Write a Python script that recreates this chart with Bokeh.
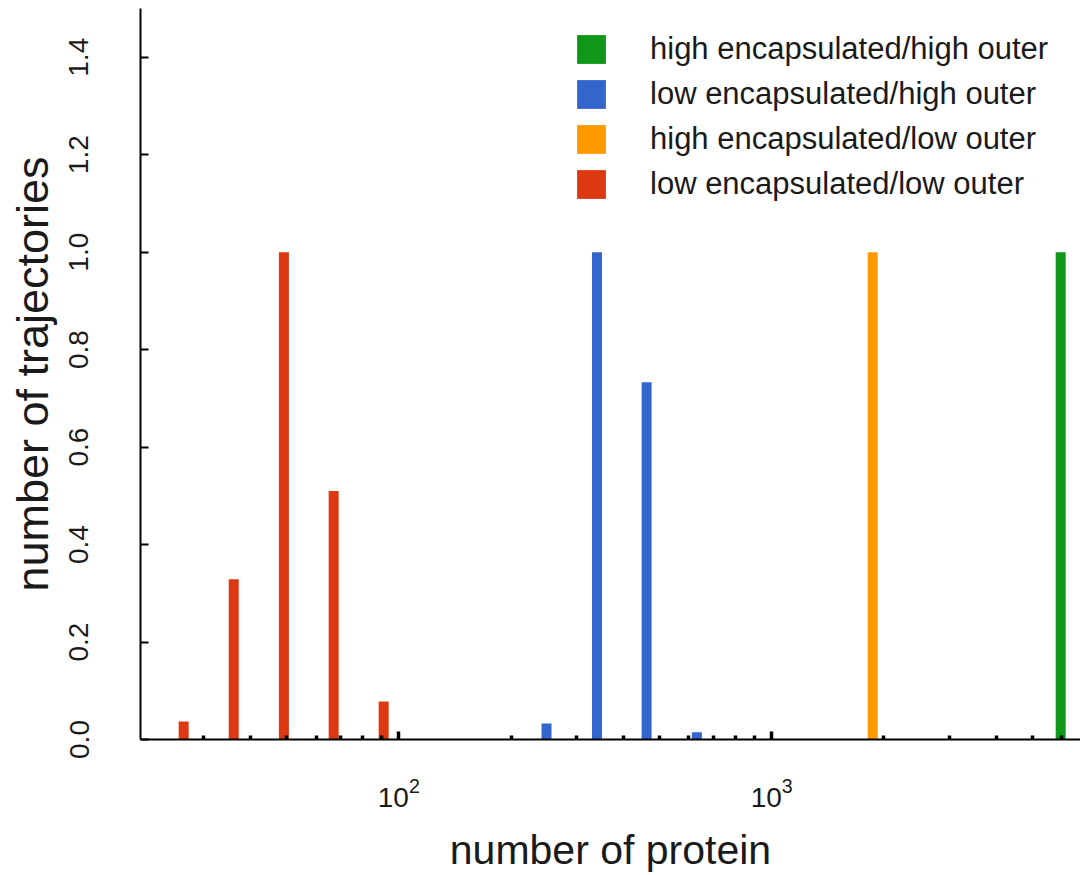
from bokeh.plotting import figure
from bokeh.models import (Range1d, FixedTicker, PrintfTickFormatter, Legend, LegendItem)
from bokeh.embed import file_html
from bokeh.resources import INLINE

# ---- data ----
series_names = ["high encapsulated/high outer", "low encapsulated/high outer",
                "high encapsulated/low outer", "low encapsulated/low outer"]
series_colors = ["#109618", "#3366cc", "#ff9900", "#dc3912"]

# bin centres (number of protein) and counts (number of trajectories)
red_x = [26.5, 36.1, 49.2, 66.9, 91.1]
red_y = [0.037, 0.329, 1.0, 0.51, 0.078]
blue_x = [249, 340, 462, 630]
blue_y = [0.033, 1.0, 0.733, 0.015]
orange_x = [1866]
orange_y = [1.0]
green_x = [5955]
green_y = [1.0]

x_major_ticks = [100, 1000]
x_minor_ticks = [30, 40, 50, 60, 70, 80, 90, 200, 300, 400, 500, 600, 700, 800, 900,
                 2000, 3000, 4000, 5000, 6000]
y_ticks = [0.0, 0.2, 0.4, 0.6, 0.8, 1.0, 1.2, 1.4]

FONT = "Liberation Sans"
TXT = "#1a1a1a"
HALF = 10 ** 0.0134  # half bar width factor in log space

p = figure(width=1080, height=875, x_axis_type="log",
           x_range=Range1d(20.3, 6730), y_range=Range1d(0, 1.5),
           output_backend="svg", toolbar_location=None,
           min_border_left=140, min_border_right=0, min_border_top=8,
           min_border_bottom=132)
p.outline_line_color = None
p.xgrid.visible = False
p.ygrid.visible = False

renderers = []
for xs, ys, col in [(green_x, green_y, series_colors[0]), (blue_x, blue_y, series_colors[1]),
                    (orange_x, orange_y, series_colors[2]), (red_x, red_y, series_colors[3])]:
    r = p.quad(left=[x / HALF for x in xs], right=[x * HALF for x in xs],
               bottom=[0] * len(xs), top=ys, fill_color=col, line_color=None)
    renderers.append(r)

# x axis
xa = p.xaxis[0]
xa.ticker = FixedTicker(ticks=x_major_ticks, minor_ticks=x_minor_ticks)
xa.axis_line_width = 2
xa.axis_line_color = "black"
xa.major_tick_in = 8
xa.major_tick_out = 0
xa.major_tick_line_width = 3.5
xa.minor_tick_in = 4
xa.minor_tick_out = 0
xa.minor_tick_line_width = 3.5
xa.major_label_text_font = FONT
xa.major_label_text_font_size = "28px"
xa.major_label_text_color = TXT
xa.major_label_standoff = 38
xa.axis_label = "number of protein"
xa.axis_label_text_font = FONT
xa.axis_label_text_font_size = "41px"
xa.axis_label_text_font_style = "normal"
xa.axis_label_text_color = TXT
xa.axis_label_standoff = 17

# y axis
ya = p.yaxis[0]
ya.ticker = FixedTicker(ticks=y_ticks)
ya.formatter = PrintfTickFormatter(format="%.1f")
ya.axis_line_width = 2
ya.axis_line_color = "black"
ya.major_tick_in = 8
ya.major_tick_out = 0
ya.major_tick_line_width = 2
ya.minor_tick_line_color = None
ya.major_label_orientation = "vertical"
ya.major_label_text_font = FONT
ya.major_label_text_font_size = "28px"
ya.major_label_text_color = TXT
ya.major_label_standoff = 52
ya.axis_label = "number of trajectories"
ya.axis_label_text_font = FONT
ya.axis_label_text_font_size = "45px"
ya.axis_label_text_font_style = "normal"
ya.axis_label_text_color = TXT
ya.axis_label_standoff = 9

legend = Legend(items=[LegendItem(label=n, renderers=[r]) for n, r in zip(series_names, renderers)],
                location=(433, 537), orientation="vertical",
                glyph_width=36, glyph_height=36, label_standoff=41, spacing=9,
                padding=0, margin=0, border_line_color=None, background_fill_alpha=0,
                label_text_font=FONT, label_text_font_size="31px", label_text_color=TXT)
p.add_layout(legend)

open("out.html", "w").write(file_html(p, INLINE))
